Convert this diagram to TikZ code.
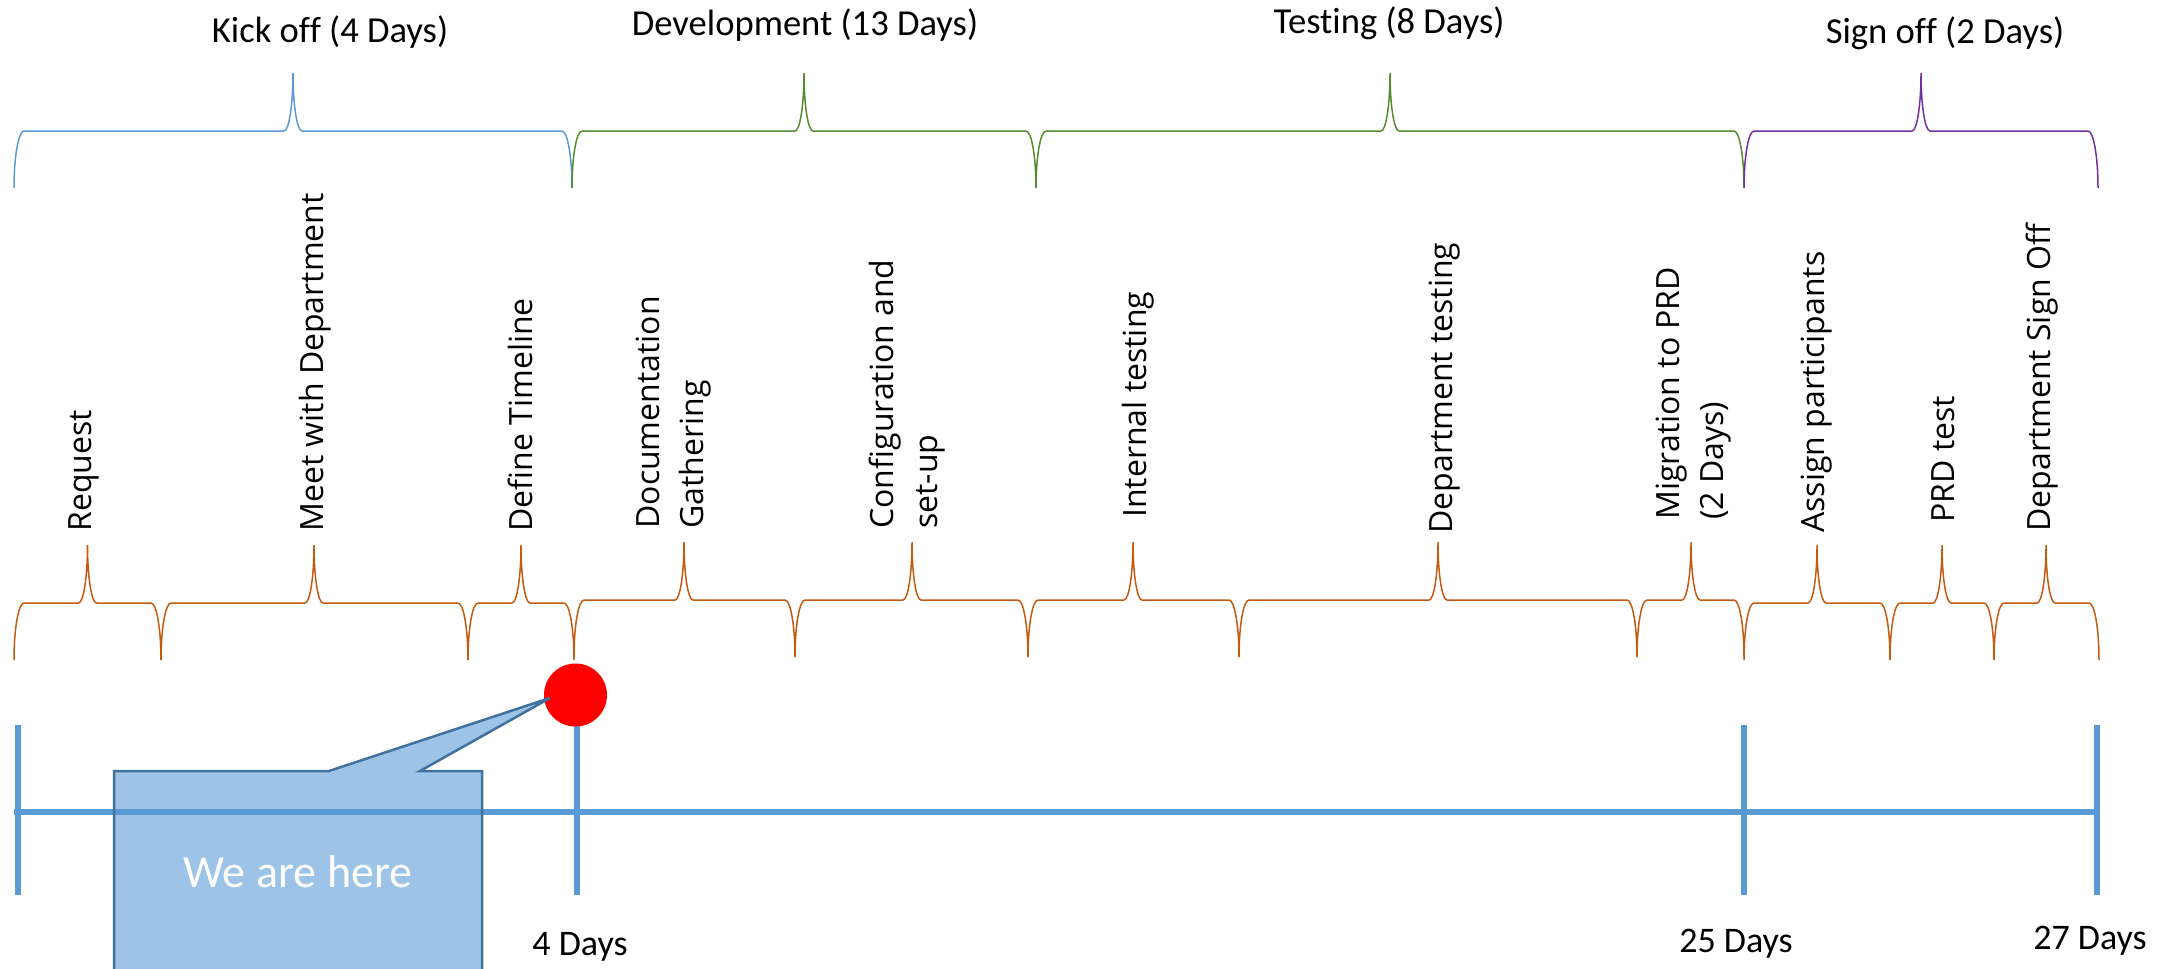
\documentclass[tikz,border=0pt]{standalone}
\usepackage{fontspec}
\setmainfont{Carlito}[Ligatures=NoCommon]
\newfontfamily\labelfont{Open Sans}

% curly brace opening downwards: #1 style, #2 left x, #3 tip x, #4 right x,
% #5 tip y, #6 bar y, #7 foot y (y grows downwards)
\newcommand{\tlbrace}[7]{%
  \pgfmathsetmacro{\tlbh}{#7-#6}%
  \pgfmathsetmacro{\tlth}{#6-#5}%
  \draw[#1] (#2,#7)
    .. controls (#2,{#7-0.552*\tlbh}) and ({#2+0.448*\tlre},#6) .. ({#2+\tlre},#6)
    -- ({#3-\tlrt},#6)
    .. controls ({#3-0.448*\tlrt},#6) and (#3,{#5+0.552*\tlth}) .. (#3,#5)
    .. controls (#3,{#5+0.552*\tlth}) and ({#3+0.448*\tlrt},#6) .. ({#3+\tlrt},#6)
    -- ({#4-\tlre},#6)
    .. controls ({#4-0.448*\tlre},#6) and (#4,{#7-0.552*\tlbh}) .. (#4,#7);
}
\def\tlre{10}
\def\tlrt{9}

\definecolor{axisblue}{RGB}{91,155,213}
\definecolor{calloutedge}{RGB}{65,113,156}
\definecolor{kickblue}{RGB}{91,155,213}
\definecolor{devgreen}{RGB}{84,140,48}
\definecolor{signpurple}{RGB}{112,48,160}
\definecolor{taskorange}{RGB}{197,90,17}

\tikzset{
  phasebrace/.style={line width=0.75pt},
  taskbrace/.style={line width=0.75pt, draw=taskorange},
  phaselabel/.style={font=\fontsize{18.3}{22}\selectfont, anchor=base, inner sep=0},
  tasklabel/.style={font=\labelfont\fontsize{16}{22}\selectfont, rotate=90,
    anchor=west, inner sep=0, align=left},
  daylabel/.style={font=\fontsize{18}{22}\selectfont, anchor=base, inner sep=0},
  axisline/.style={draw=axisblue, line width=2.65pt},
}

\begin{document}
\begin{tikzpicture}[x=0.5pt, y=-0.5pt]
\path[use as bounding box] (0,0) rectangle (2175,969);

% phase braces
\tlbrace{phasebrace, draw=kickblue}{14}{293}{572}{73}{131}{188}
\tlbrace{phasebrace, draw=devgreen}{572}{804}{1036}{73}{131}{188}
\tlbrace{phasebrace, draw=devgreen}{1036}{1390}{1744}{73}{131}{188}
\tlbrace{phasebrace, draw=signpurple}{1744}{1921}{2098}{73}{131}{188}

\node[phaselabel] (kick) at (330,42) {Kick off (4 Days)};
\node[phaselabel] (dev)  at (805,35) {Development (13 Days)};
\node[phaselabel] (test) at (1389,33) {Testing (8 Days)};
\node[phaselabel] (sign) at (1945,43) {Sign off (2 Days)};

% task braces
\tlbrace{taskbrace}{14}{87.5}{161}{545}{603}{660}
\tlbrace{taskbrace}{161}{314}{468}{545}{603}{660}
\tlbrace{taskbrace}{468}{521}{574}{545}{603}{660}
\tlbrace{taskbrace}{574}{684}{795}{542}{600}{657}
\tlbrace{taskbrace}{795}{912}{1028}{542}{600}{657}
\tlbrace{taskbrace}{1028}{1133}{1239}{542}{600}{657}
\tlbrace{taskbrace}{1239}{1438}{1637}{542}{600}{657}
\tlbrace{taskbrace}{1637}{1691}{1744}{542}{600}{657}
\tlbrace{taskbrace}{1744}{1817}{1890}{545}{603}{660}
\tlbrace{taskbrace}{1890}{1942}{1994}{545}{603}{660}
\tlbrace{taskbrace}{1994}{2046}{2099}{545}{603}{660}

% task labels
\node[tasklabel] (request) at (84,532) {Request};
\node[tasklabel] (meet)    at (315.5,532) {Meet with Department};
\node[tasklabel] (define)  at (520.5,532) {Define Timeline};
\node[tasklabel] (docs)    at (673.5,529) {Documentation\\Gathering};
\node[tasklabel] (config)  at (907,529) {Configuration and\\set-up};
\node[tasklabel] (internal) at (1138,518) {Internal testing};
\node[tasklabel] (depttest) at (1445,534) {Department testing};
\node[tasklabel] (migrate) at (1693.5,520) {Migration to PRD\\(2 Days)};
\node[tasklabel] (assign)  at (1817,533) {Assign participants};
\node[tasklabel] (prd)     at (1943.5,523) {PRD test};
\node[tasklabel] (signoff) at (2042,532) {Department Sign Off};

% time axis
\coordinate (axstart) at (14,812);
\coordinate (axend)   at (2097,812);
\foreach \n/\x in {t0/18, t4/577, t25/1744, t27/2097} {
  \coordinate (\n top) at (\x,725);
  \coordinate (\n bot) at (\x,895);
  \draw[axisline] (\n top) -- (\n bot);
}
\draw[axisline] (axstart) -- (axend);

% current position marker
\node[circle, fill=red, inner sep=0, minimum size=31.5pt] (here) at (575.5,695) {};

% speech callout
\coordinate (tip) at (550,698);
\begin{scope}
\clip (0,0) rectangle (2175,969);
\draw[fill=axisblue, fill opacity=0.6, draw=calloutedge, line width=1.25pt, line join=miter]
  (114,771) -- (329,771) -- (tip) -- (420,771) -- (482,771) -- (482,1000)
  -- (114,1000) -- cycle;
\end{scope}
\node[font=\fontsize{23}{28}\selectfont, text=white, anchor=base, inner sep=0] (note) at (298,887) {We are here};

% day markers
\node[daylabel] (d4)  at (580,955) {4 Days};
\node[daylabel] (d25) at (1736,952) {25 Days};
\node[daylabel] (d27) at (2090,949) {27 Days};
\end{tikzpicture}
\end{document}
